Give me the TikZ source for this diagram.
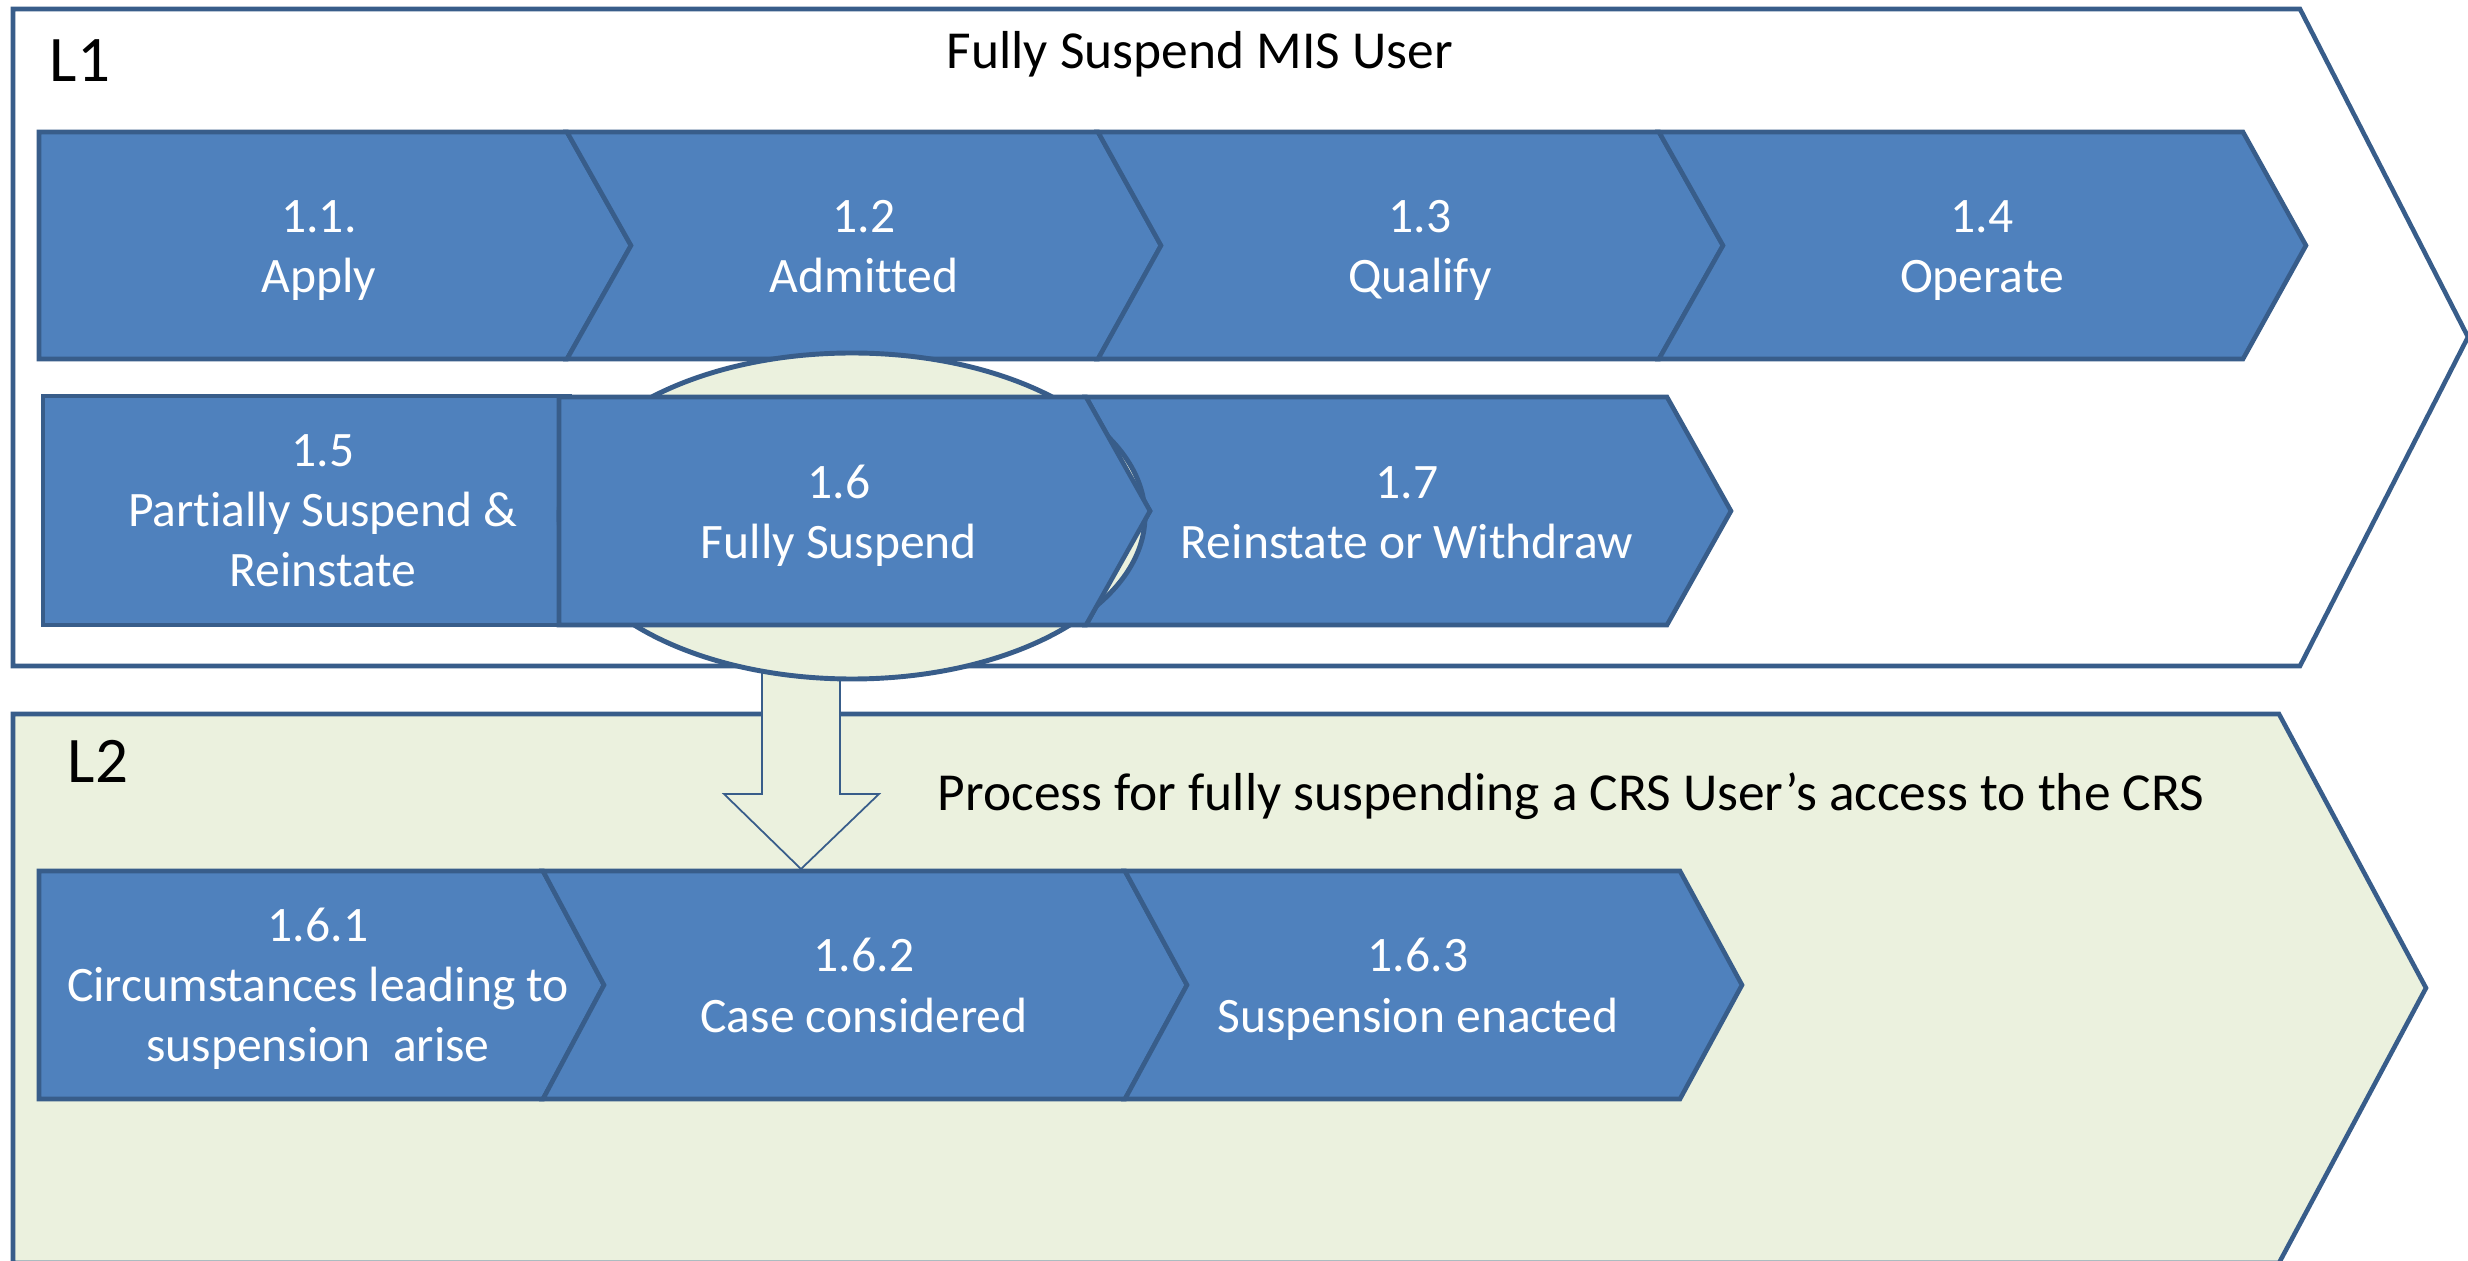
\documentclass[tikz,border=0pt]{standalone}
\usepackage{fontspec}
\setmainfont{Carlito}[Ligatures=CommonOff]
\definecolor{chevblue}{HTML}{4F81BD}
\definecolor{edgeblue}{HTML}{385D8A}
\definecolor{palegreen}{HTML}{EBF1DE}

\begin{document}
\begin{tikzpicture}[x=.01cm,y=-.01cm,
    blk/.style={fill=chevblue,draw=edgeblue,line width=1.3pt},
    lbl/.style={text=white,align=center,anchor=base,inner sep=0pt,font=\fontsize{14.1}{17.07}\selectfont},
    ttl/.style={anchor=base,inner sep=0pt,font=\fontsize{15.2}{18}\selectfont},
    lvl/.style={anchor=base west,inner sep=0pt,font=\fontsize{18.5}{22}\selectfont}]
    \useasboundingbox (0,0) rectangle (2468,1261);
    \clip (0,0) rectangle (2468,1261);
    % level frames
    \draw[fill=white,draw=edgeblue,line width=1.3pt](13,9)--(2300,9)--(2468,337)--(2300,666)--(13,666)--cycle;
    \draw[fill=palegreen,draw=edgeblue,line width=1.3pt](13,714)--(2279,714)--(2426,988)--(2279,1263)--(13,1263)--cycle;
    \node[lvl](l1)at(49,82){L1};
    \node[ttl](t1)at(1200,68.6){Fully Suspend MIS User};
    \node[lvl](l2)at(67,783){L2};
    \node[ttl](t2)at(1571,811){Process for fully suspending a CRS User’s access to the CRS};
    % block arrow down
    \draw[fill=palegreen,draw=edgeblue,line width=.5pt](762,650)--(762,794)--(724,794)--(801,869)--(879,794)--(840,794)--(840,650)--cycle;
    % first row
    \draw[blk](39,132)--(567,132)--(631,245.5)--(567,359)--(39,359)--cycle;
    \draw[blk](567,132)--(1098,132)--(1161,245.5)--(1098,359)--(567,359)--(631,245.5)--cycle;
    \draw[blk](1098,132)--(1659,132)--(1723,245.5)--(1659,359)--(1098,359)--(1161,245.5)--cycle;
    \draw[blk](1659,132)--(2243,132)--(2306,245.5)--(2243,359)--(1659,359)--(1723,245.5)--cycle;
    \node[lbl](apply)at(319,293){1.1.\\Apply};
    \node[lbl](admitted)at(864,293){1.2\\Admitted};
    \node[lbl](qualify)at(1420,293){1.3\\Qualify};
    \node[lbl](operate)at(1982,293){1.4\\Operate};
    % second row
    \draw[blk](43,396)rectangle(570,625);
    \draw[blk](1086,397)--(1667,397)--(1731,511)--(1667,625)--(1086,625)--(1150,511)--cycle;
    \draw[fill=palegreen,draw=edgeblue,line width=1.4pt](852,516)ellipse[x radius=293,y radius=163];
    \draw[blk](559,397)--(1086,397)--(1150,511)--(1086,625)--(559,625)--cycle;
    \node[lbl](partial)at(323,587){1.5\\Partially Suspend \&\\Reinstate};
    \node[lbl](fully)at(839,559){1.6\\Fully Suspend};
    \node[lbl](reinstate)at(1407,559){1.7\\Reinstate or Withdraw};
    % third row
    \draw[blk](39,871)--(543,871)--(604,985)--(543,1099)--(39,1099)--cycle;
    \draw[blk](543,871)--(1125,871)--(1187,985)--(1125,1099)--(543,1099)--(604,985)--cycle;
    \draw[blk](1125,871)--(1680,871)--(1742,985)--(1680,1099)--(1125,1099)--(1187,985)--cycle;
    \node[lbl](arise)at(318,1062){1.6.1\\Circumstances leading to\\suspension~~arise};
    \node[lbl](case)at(864,1032){1.6.2\\Case considered};
    \node[lbl](enacted)at(1418,1032){1.6.3\\Suspension enacted};
\end{tikzpicture}
\end{document}
